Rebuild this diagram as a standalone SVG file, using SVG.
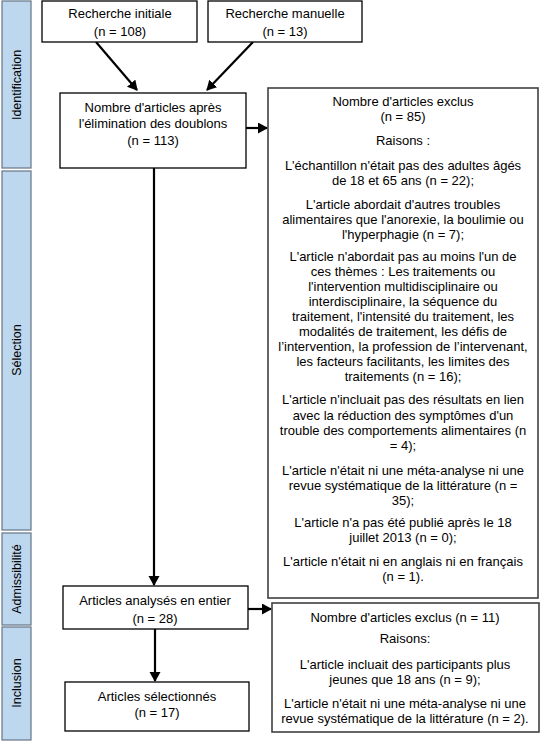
<svg xmlns="http://www.w3.org/2000/svg" width="542" height="742" viewBox="0 0 542 742">
<defs>
<marker id="ah" markerWidth="12" markerHeight="12" refX="9" refY="5.5" orient="auto" markerUnits="userSpaceOnUse">
<path d="M0,0 L10,5.5 L0,11 Z" fill="#000"/>
</marker>
<style>
.bar{fill:#bdd7ee;stroke:#6f7f8f;stroke-width:1.3}
.box{fill:#fff;stroke:#000;stroke-width:1.3}
.rbox{fill:#fff;stroke:#404040;stroke-width:1.6}
text{font-family:"Liberation Sans",Arial,sans-serif;font-size:13px;fill:#000;text-anchor:middle}
.bar+text{font-size:12.5px}
.con{stroke:#000;stroke-width:2.2;fill:none;marker-end:url(#ah)}
</style>
</defs>
<rect width="542" height="742" fill="#fff"/>
<g id="phases">
<g id="bar-identification"><rect class="bar" x="2" y="1" width="29" height="167"/><text transform="translate(21,85) rotate(-90)">Identification</text></g>
<g id="bar-selection"><rect class="bar" x="2" y="171" width="29" height="359"/><text transform="translate(21,350) rotate(-90)">Sélection</text></g>
<g id="bar-admissibilite"><rect class="bar" x="2" y="533" width="29" height="92"/><text transform="translate(21,579) rotate(-90)">Admissibilité</text></g>
<g id="bar-inclusion"><rect class="bar" x="2" y="627" width="29" height="113"/><text transform="translate(21,683) rotate(-90)">Inclusion</text></g>
</g>
<g id="connectors">
<line class="con" x1="96" y1="42" x2="137" y2="90"/>
<line class="con" x1="253" y1="42" x2="207" y2="90"/>
<line class="con" x1="246" y1="128" x2="267" y2="128"/>
<line class="con" x1="154" y1="168" x2="154" y2="585"/>
<line class="con" x1="248" y1="609" x2="271" y2="609"/>
<line class="con" x1="155" y1="629" x2="155" y2="681"/>
</g>
<g id="n-initiale"><rect class="box" x="42" y="1" width="155" height="41"/><text x="120" y="18">Recherche initiale</text><text x="120" y="36">(n = 108)</text></g>
<g id="n-manuelle"><rect class="box" x="208" y="1" width="154" height="41"/><text x="285" y="18">Recherche manuelle</text><text x="285" y="36">(n = 13)</text></g>
<g id="n-doublons"><rect class="box" x="60" y="93" width="186" height="75"/><text x="153" y="112">Nombre d'articles après</text><text x="153" y="128">l'élimination des doublons</text><text x="153" y="145">(n = 113)</text></g>
<g id="n-exclus1"><rect class="rbox" x="268" y="88" width="270" height="510"/>
<text x="403" y="106">Nombre d'articles exclus</text>
<text x="403" y="121">(n = 85)</text>
<text x="403" y="145">Raisons :</text>
<text x="403" y="170">L'échantillon n'était pas des adultes âgés</text>
<text x="403" y="185">de 18 et 65 ans (n = 22);</text>
<text x="403" y="209">L'article abordait d'autres troubles</text>
<text x="403" y="224">alimentaires que l'anorexie, la boulimie ou</text>
<text x="403" y="239">l'hyperphagie (n = 7);</text>
<text x="403" y="261">L'article n'abordait pas au moins l'un de</text>
<text x="403" y="276">ces thèmes : Les traitements ou</text>
<text x="403" y="291">l'intervention multidisciplinaire ou</text>
<text x="403" y="306">interdisciplinaire, la séquence du</text>
<text x="403" y="321">traitement, l'intensité du traitement, les</text>
<text x="403" y="336">modalités de traitement, les défis de</text>
<text x="403" y="351">l’intervention, la profession de l’intervenant,</text>
<text x="403" y="366">les facteurs facilitants, les limites des</text>
<text x="403" y="381">traitements (n = 16);</text>
<text x="403" y="404">L'article n'incluait pas des résultats en lien</text>
<text x="403" y="420">avec la réduction des symptômes d'un</text>
<text x="403" y="435">trouble des comportements alimentaires (n</text>
<text x="403" y="450">= 4);</text>
<text x="403" y="475">L'article n'était ni une méta-analyse ni une</text>
<text x="403" y="490">revue systématique de la littérature (n =</text>
<text x="403" y="505">35);</text>
<text x="403" y="527">L'article n'a pas été publié après le 18</text>
<text x="403" y="542">juillet 2013 (n = 0);</text>
<text x="403" y="566">L'article n'était ni en anglais ni en français</text>
<text x="403" y="581">(n = 1).</text>
</g>
<g id="n-analyses"><rect class="box" x="63" y="586" width="185" height="43"/><text x="155" y="605">Articles analysés en entier</text><text x="155" y="623">(n = 28)</text></g>
<g id="n-exclus2"><rect class="rbox" x="272" y="603" width="267" height="129"/>
<text x="405" y="622">Nombre d'articles exclus (n = 11)</text>
<text x="405" y="643">Raisons:</text>
<text x="405" y="669">L'article incluait des participants plus</text>
<text x="405" y="684">jeunes que 18 ans (n = 9);</text>
<text x="405" y="708">L'article n'était ni une méta-analyse ni une</text>
<text x="405" y="723">revue systématique de la littérature (n = 2).</text>
</g>
<g id="n-selectionnes"><rect class="box" x="65" y="682" width="184" height="49"/><text x="157" y="701">Articles sélectionnés</text><text x="157" y="717">(n = 17)</text></g>
</svg>
